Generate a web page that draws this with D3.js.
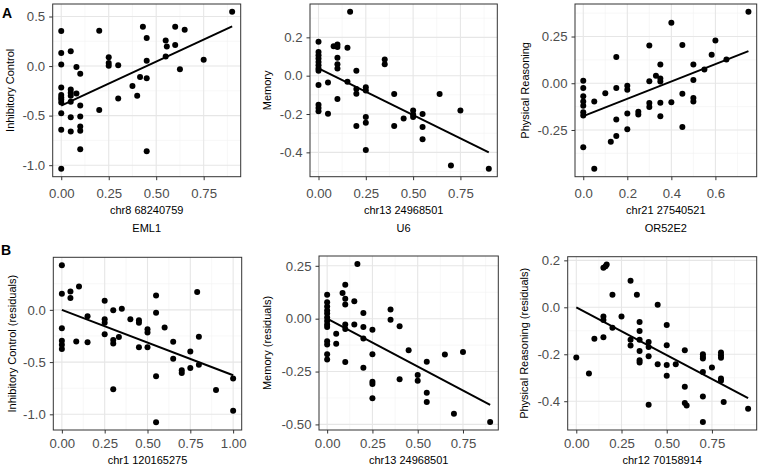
<!DOCTYPE html>
<html><head><meta charset="utf-8">
<script src="https://cdn.jsdelivr.net/npm/d3@7"></script>
<style>body{margin:0;background:#fff} svg{display:block}</style>
</head><body>
<svg id="c" width="760" height="471"></svg>
<script>
// ---------- Panel A1: Inhibitory Control vs chr8 68240759 (EML1) ----------
const a1X = [0,0,0,0,0,0,0,0,0,0,0, 0.05,0.05,0.05,0.05,0.05,0.05,0.05, 0.08,0.08, 0.1,0.1,0.1,0.1,0.1,0.1,
  0.2,0.2, 0.25,0.25,0.25, 0.3,0.3, 0.375, 0.4, 0.415, 0.43, 0.45,0.45,0.45,0.45, 0.55,0.55, 0.556, 0.6,0.6, 0.625, 0.65, 0.75, 0.9];
const a1Y = [0.353,0.133,0.017,-0.217,-0.293,-0.317,-0.337,-0.367,-0.477,-0.643,-1.037, 0.15,-0.237,-0.27,-0.3,-0.36,-0.517,-0.66, -0.01,-0.277, -0.077,-0.397,-0.51,-0.61,-0.653,-0.84,
  0.357,-0.443, 0.09,0.03,0.003, 0.007,-0.327, -0.2, -0.3, -0.11, 0.397, 0.283,0.053,-0.123,-0.86, 0.257,0.097, 0.197, 0.397,0.213, -0.033, 0.367, 0.063, 0.547];
const a1LineX = [0, 0.9];
const a1LineY = [-0.40, 0.40];
const a1XTicks = [0, 0.25, 0.5, 0.75];
const a1XLabels = ["0.00", "0.25", "0.50", "0.75"];
const a1YTicks = [-1, -0.5, 0, 0.5];
const a1YLabels = ["-1.0", "-0.5", "0.0", "0.5"];

// ---------- Panel A2: Memory vs chr13 24968501 (U6) ----------
const a2X = [0,0,0,0,0,0,0,0,0,0,0,0, 0.05,0.05, 0.08, 0.1,0.1,0.1,0.1,0.1,0.1, 0.153,0.153, 0.167, 0.2,0.2,0.2,0.2,
  0.25,0.25,0.25,0.25,0.25, 0.35,0.35, 0.4,0.4, 0.45, 0.5,0.5,0.5, 0.55,0.55,0.55, 0.64, 0.7, 0.75, 0.9];
const a2Y = [0.177,0.124,0.107,0.089,0.072,0.055,0.038,0.026,-0.048,-0.151,-0.168,-0.186, -0.036,-0.198, 0.153, 0.163,0.149,0.094,0.06,0.038,-0.122, 0.146,-0.031, 0.333, 0.026,-0.07,-0.094,-0.263,
  -0.06,-0.077,-0.215,-0.246,-0.388, 0.084,0.06, -0.096,-0.263, -0.223, -0.182,-0.203,-0.215, -0.2,-0.268,-0.332, -0.096, -0.469, -0.182, -0.486];
const a2LineX = [0, 0.9];
const a2LineY = [0.038, -0.40];
const a2XTicks = [0, 0.25, 0.5, 0.75];
const a2XLabels = ["0.00", "0.25", "0.50", "0.75"];
const a2YTicks = [-0.4, -0.2, 0, 0.2];
const a2YLabels = ["-0.4", "-0.2", "0.0", "0.2"];

// ---------- Panel A3: Physical Reasoning vs chr21 27540521 (OR52E2) ----------
const a3X = [0,0,0,0,0,0,0,0, 0.05,0.05, 0.1, 0.125, 0.15,0.15,0.15,0.15, 0.2,0.2,0.2,0.2, 0.25,0.25, 0.3,0.3,0.3,0.3, 0.33,
  0.35,0.35,0.35,0.35,0.35, 0.4,0.4, 0.45,0.45,0.45, 0.5,0.5,0.5,0.5, 0.55, 0.583, 0.6, 0.65, 0.75];
const a3Y = [0.014,-0.026,-0.07,-0.097,-0.12,-0.155,-0.173,-0.343, -0.097,-0.458, -0.053, -0.313, 0.141,-0.025,-0.194,-0.282, -0.014,-0.035,-0.162,-0.246, -0.153,-0.167, 0.202,0.011,-0.106,-0.127, 0.04,
  0.026,0.009,0.1,-0.104,-0.176, 0.324,-0.102, 0.204,-0.056,-0.234, 0.1,0.018,-0.079,-0.097, 0.074, 0.153, 0.229, 0.127, 0.382];
const a3LineX = [0, 0.75];
const a3LineY = [-0.176, 0.172];
const a3XTicks = [0, 0.2, 0.4, 0.6];
const a3XLabels = ["0.0", "0.2", "0.4", "0.6"];
const a3YTicks = [-0.25, 0, 0.25];
const a3YLabels = ["-0.25", "0.00", "0.25"];

// ---------- Panel B1: Inhibitory Control (residuals) vs chr1 120165275 ----------
const b1X = [0,0,0,0,0,0, 0.05,0.05, 0.084, 0.1, 0.15,0.15, 0.25,0.25,0.25,0.25, 0.3,0.3,0.3,0.3, 0.333, 0.35, 0.4, 0.45,0.45,0.45,
  0.5,0.5,0.5, 0.55,0.55,0.55,0.55, 0.6, 0.65,0.65, 0.7,0.7, 0.75,0.75, 0.79, 0.8,0.8, 0.9, 1.0,1.0];
const b1Y = [0.428,0.154,-0.176,-0.296,-0.333,-0.374, 0.176,0.113, -0.302, 0.223, -0.06,-0.311, 0.088,-0.091,-0.123,-0.233, -0.003,-0.289,-0.321,-0.761, -0.26, 0.01, -0.091, -0.1,-0.123,-0.358,
  -0.186,-0.217,-0.358, 0.138,-0.028,-0.635,-1.075, -0.17, -0.305,-0.469, -0.579,-0.604, -0.399,-0.557, 0.17, -0.258,-0.525, -0.767, -0.657,-0.965];
const b1LineX = [0, 1.0];
const b1LineY = [0.0, -0.626];
const b1XTicks = [0, 0.25, 0.5, 0.75, 1.0];
const b1XLabels = ["0.00", "0.25", "0.50", "0.75", "1.00"];
const b1YTicks = [-1, -0.5, 0];
const b1YLabels = ["-1.0", "-0.5", "0.0"];

// ---------- Panel B2: Memory (residuals) vs chr13 24968501 ----------
const b2X = [0,0,0,0,0,0,0,0,0,0,0,0,0, 0.05,0.05, 0.085, 0.1,0.1,0.1,0.1,0.1,0.1, 0.15,0.15, 0.167, 0.2,0.2,0.2,0.2,
  0.25,0.25,0.25,0.25,0.25, 0.35,0.35, 0.4,0.4, 0.45, 0.5,0.5, 0.55,0.55,0.55, 0.65, 0.7, 0.75, 0.9];
const b2Y = [0.113,0.078,0.058,0.039,0.024,0.005,-0.011,-0.027,-0.039,-0.107,-0.122,-0.168,-0.193, -0.071,-0.118, 0.121, 0.161,0.094,0.067,-0.027,-0.049,-0.205, 0.082,-0.027, 0.259, 0.027,-0.039,-0.094,-0.232,
  -0.052,-0.168,-0.298,-0.309,-0.376, 0.044,-0.005, -0.036,-0.287, -0.149, -0.266,-0.293, -0.204,-0.35,-0.394, -0.169, -0.45, -0.157, -0.489];
const b2LineX = [0, 0.9];
const b2LineY = [0.0, -0.408];
const b2XTicks = [0, 0.25, 0.5, 0.75];
const b2XLabels = ["0.00", "0.25", "0.50", "0.75"];
const b2YTicks = [-0.5, -0.25, 0, 0.25];
const b2YLabels = ["-0.50", "-0.25", "0.00", "0.25"];

// ---------- Panel B3: Physical Reasoning (residuals) vs chr12 70158914 ----------
const b3X = [0, 0.07, 0.1, 0.15, 0.162,0.168, 0.15,0.15,0.15, 0.2,0.2, 0.25, 0.3,0.3,0.3, 0.335, 0.35,0.35,0.35,0.35,0.35,0.35,
  0.4,0.4,0.4,0.4, 0.45,0.45, 0.5,0.5,0.5,0.5, 0.55, 0.6,0.6,0.6, 0.61, 0.7,0.7,0.7,0.7,0.7,0.7, 0.75, 0.8,0.8,0.8,0.8,0.8, 0.815, 0.95];
const b3Y = [-0.214, -0.282, -0.134, 0.169, 0.175,0.182, -0.039,-0.054,-0.127, 0.054,-0.087, -0.039, 0.113,-0.138,-0.163, 0.054, -0.063,-0.101,-0.138,-0.186,-0.225,-0.235,
  -0.148,-0.169,-0.208,-0.415, 0.011,-0.242, -0.075,-0.162,-0.246,-0.292, -0.242, -0.183,-0.338,-0.408, -0.418, -0.2,-0.211,-0.218,-0.275,-0.38,-0.489, -0.256, -0.193,-0.204,-0.215,-0.303,-0.313, -0.403, -0.432];
const b3LineX = [0, 0.95];
const b3LineY = [0.0, -0.387];
const b3XTicks = [0, 0.25, 0.5, 0.75];
const b3XLabels = ["0.00", "0.25", "0.50", "0.75"];
const b3YTicks = [-0.4, -0.2, 0, 0.2];
const b3YLabels = ["-0.4", "-0.2", "0.0", "0.2"];

const xTitles = [["chr8 68240759","EML1"],["chr13 24968501","U6"],["chr21 27540521","OR52E2"],
                 ["chr1 120165275"],["chr13 24968501"],["chr12 70158914"]];
const yTitles = ["Inhibitory Control","Memory","Physical Reasoning",
                 "Inhibitory Control (residuals)","Memory (residuals)","Physical Reasoning (residuals)"];
const panelLetters = ["A","B"];

const panels = [
  {x:a1X,y:a1Y,lx:a1LineX,ly:a1LineY,xt:a1XTicks,xl:a1XLabels,yt:a1YTicks,yl:a1YLabels},
  {x:a2X,y:a2Y,lx:a2LineX,ly:a2LineY,xt:a2XTicks,xl:a2XLabels,yt:a2YTicks,yl:a2YLabels},
  {x:a3X,y:a3Y,lx:a3LineX,ly:a3LineY,xt:a3XTicks,xl:a3XLabels,yt:a3YTicks,yl:a3YLabels},
  {x:b1X,y:b1Y,lx:b1LineX,ly:b1LineY,xt:b1XTicks,xl:b1XLabels,yt:b1YTicks,yl:b1YLabels},
  {x:b2X,y:b2Y,lx:b2LineX,ly:b2LineY,xt:b2XTicks,xl:b2XLabels,yt:b2YTicks,yl:b2YLabels},
  {x:b3X,y:b3Y,lx:b3LineX,ly:b3LineY,xt:b3XTicks,xl:b3XLabels,yt:b3YTicks,yl:b3YLabels}
];

// layout (pixel geometry)
const layouts = [
  {l:52.7, r:240.7, t:4,     b:176.7, ytx:10,  xpad:8},
  {l:310,  r:497.3, t:4,     b:176.7, ytx:267, xpad:8},
  {l:575,  r:756.7, t:4,     b:176.7, ytx:525, xpad:8},
  {l:53.3, r:241.7, t:257.3, b:430,   ytx:12,  xpad:5.5},
  {l:319,  r:498.3, t:256,   b:430,   ytx:267, xpad:5.5},
  {l:567.7,r:756.7, t:256.7, b:430,   ytx:524, xpad:5.5}
];

const svg = d3.select("#c");
const FONT = "'Liberation Sans', Arial, Helvetica, sans-serif";
function expand(e){ const d=e[1]-e[0]; return [e[0]-0.05*d, e[1]+0.05*d]; }
function minorOf(ticks, dom){
  const step = ticks[1]-ticks[0];
  const out=[];
  for (let k=-1;k<ticks.length;k++){
    const v = ticks[0] + step*k + step/2;
    if (v>Math.min(dom[0],dom[1]) && v<Math.max(dom[0],dom[1])) out.push(v);
  }
  return out;
}

panels.forEach((p,i)=>{
  const L = layouts[i];
  const xd = expand(d3.extent(p.x)), yd = expand(d3.extent(p.y));
  const xs = d3.scaleLinear().domain(xd).range([L.l, L.r]);
  const ys = d3.scaleLinear().domain(yd).range([L.b, L.t]);
  const g = svg.append("g");

  // minor grid
  g.selectAll(null).data(minorOf(p.xt, xd)).enter().append("line")
    .attr("x1",d=>xs(d)).attr("x2",d=>xs(d)).attr("y1",L.t).attr("y2",L.b)
    .attr("stroke","#f2f2f2").attr("stroke-width",0.6);
  g.selectAll(null).data(minorOf(p.yt, yd)).enter().append("line")
    .attr("y1",d=>ys(d)).attr("y2",d=>ys(d)).attr("x1",L.l).attr("x2",L.r)
    .attr("stroke","#f2f2f2").attr("stroke-width",0.6);
  // major grid
  g.selectAll(null).data(p.xt).enter().append("line")
    .attr("x1",d=>xs(d)).attr("x2",d=>xs(d)).attr("y1",L.t).attr("y2",L.b)
    .attr("stroke","#e6e6e6").attr("stroke-width",1.1);
  g.selectAll(null).data(p.yt).enter().append("line")
    .attr("y1",d=>ys(d)).attr("y2",d=>ys(d)).attr("x1",L.l).attr("x2",L.r)
    .attr("stroke","#e6e6e6").attr("stroke-width",1.1);

  // points
  g.selectAll(null).data(p.x.map((v,j)=>[v,p.y[j]])).enter().append("circle")
    .attr("cx",d=>xs(d[0])).attr("cy",d=>ys(d[1])).attr("r",3).attr("fill","#000");

  // regression line
  g.append("path")
    .attr("d", d3.line().x(d=>xs(d[0])).y(d=>ys(d[1]))(p.lx.map((v,j)=>[v,p.ly[j]])))
    .attr("stroke","#000").attr("stroke-width",2).attr("fill","none");

  // frame
  g.append("rect").attr("x",L.l).attr("y",L.t).attr("width",L.r-L.l).attr("height",L.b-L.t)
    .attr("fill","none").attr("stroke","#333").attr("stroke-width",1);

  // axes
  const xa = g.append("g").attr("transform",`translate(0,${L.b})`)
    .call(d3.axisBottom(xs).tickValues(p.xt).tickFormat((d,j)=>p.xl[j]).tickSizeInner(3.5).tickSizeOuter(0).tickPadding(L.xpad));
  const ya = g.append("g").attr("transform",`translate(${L.l},0)`)
    .call(d3.axisLeft(ys).tickValues(p.yt).tickFormat((d,j)=>p.yl[j]).tickSizeInner(3.5).tickSizeOuter(0).tickPadding(4));
  [xa,ya].forEach(a=>{
    a.select(".domain").remove();
    a.selectAll(".tick line").attr("stroke","#333");
    a.selectAll(".tick text").attr("fill","#4d4d4d").style("font-family",FONT).style("font-size","13.2px");
  });

  // x title
  const xc = (L.l+L.r)/2;
  const tY = i<3 ? 214 : 463.5;
  xTitles[i].forEach((s,k)=>{
    g.append("text").attr("x",xc).attr("y",tY+k*17.5).attr("text-anchor","middle")
      .style("font-family",FONT).style("font-size","11px").attr("fill","#000").text(s);
  });
  // y title
  const yc = (L.t+L.b)/2;
  g.append("text").attr("transform",`translate(${L.ytx+4},${yc}) rotate(-90)`)
    .attr("text-anchor","middle").style("font-family",FONT).style("font-size","11px")
    .attr("fill","#000").text(yTitles[i]);
});

svg.append("text").attr("x",2).attr("y",18).text(panelLetters[0])
  .style("font-family",FONT).style("font-size","14px").style("font-weight","bold");
svg.append("text").attr("x",1).attr("y",254.5).text(panelLetters[1])
  .style("font-family",FONT).style("font-size","14px").style("font-weight","bold");
</script>
</body></html>
